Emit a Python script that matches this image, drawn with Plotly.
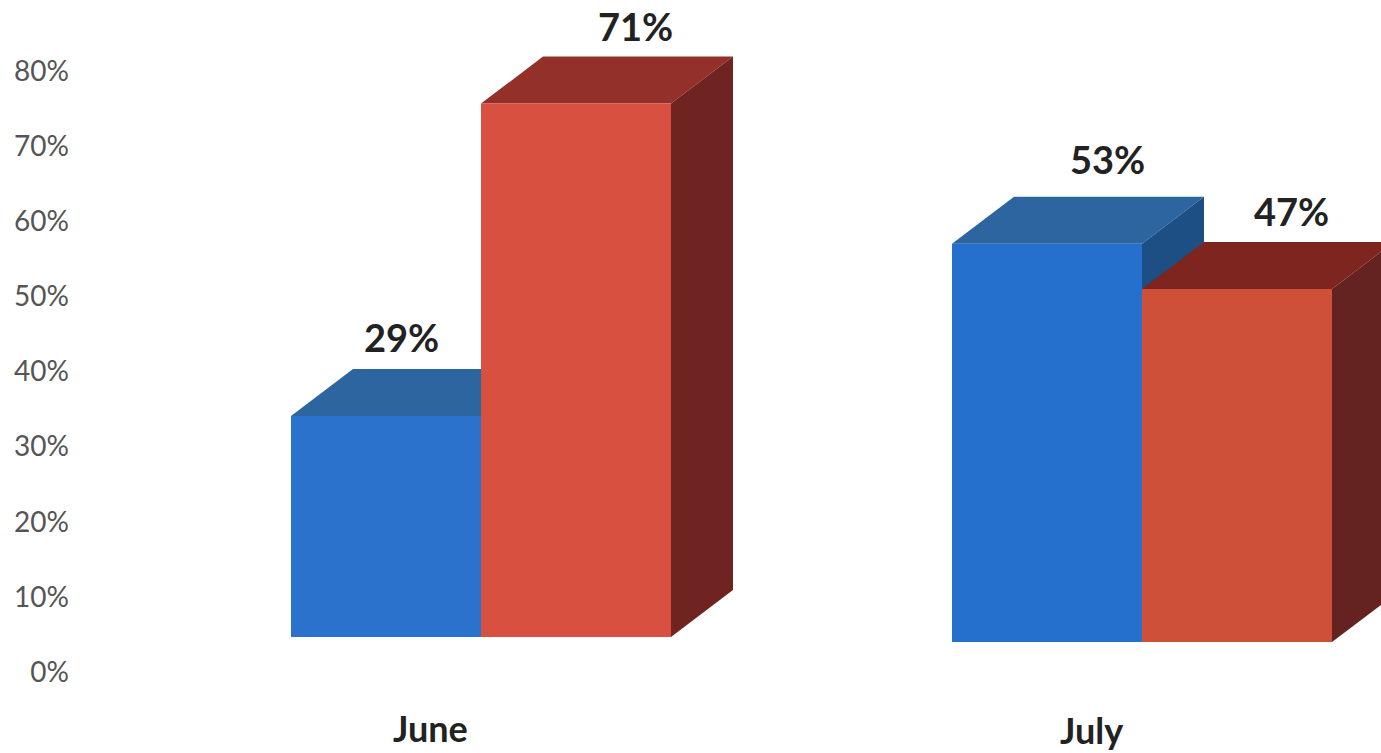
import plotly.graph_objects as go

# --- data ---
categories = ["June", "July"]
blue_values = [29.4, 53]
red_values = [71, 47]
y_ticks = [0, 10, 20, 30, 40, 50, 60, 70, 80]

# --- per-group look (the scan is slightly skewed, so July sits a little lower) ---
group_floor = [4.66, 3.99]
blue_colors = [("#2a72cc", "#2c659f", "#1f4e86"), ("#2470cc", "#2c659f", "#1d4e84")]
red_colors = [("#d8503f", "#923029", "#702422"), ("#cf5039", "#7e2520", "#642320")]
blue_nudge_px = [(-47, 3), (-2, 8)]
red_nudge_px = [(-3, 1), (-8, 1)]
cat_label_drop_px = [91, 88]

# --- geometry ---
W, H = 1381, 753
ML = 70
PX_PER_CAT = 661.0
PX_PER_PCT = 7.5125
CAT0_PX, ZERO_PX = 430.0, 672.0
BAR_W = 190 / PX_PER_CAT
DX = 62 / PX_PER_CAT
DY = 47 / PX_PER_PCT
BAR_SHIFT = 51 / PX_PER_CAT
LABEL_GAP = 29.5 / PX_PER_PCT
FONT = "Lato, Open Sans, sans-serif"

fig = go.Figure()


def face(xs, ys, color):
    fig.add_trace(go.Scatter(x=xs, y=ys, mode="lines", fill="toself", fillcolor=color,
                             line=dict(width=0, color=color), hoverinfo="skip", showlegend=False))


def box(x0, floor, value, colors):
    front, top, side = colors
    y1 = floor + value
    x1 = x0 + BAR_W
    face([x0 + DX, x1 + DX, x1, x0, x0 + DX], [y1 + DY, y1 + DY, y1, y1, y1 + DY], top)
    face([x1, x1 + DX, x1 + DX, x1, x1], [floor, floor + DY, y1 + DY, y1, floor], side)
    face([x0, x1, x1, x0, x0], [floor, floor, y1, y1, floor], front)


annotations = []


def value_label(x0, floor, value, nudge):
    annotations.append(dict(
        x=x0 + BAR_W / 2 + DX + nudge[0] / PX_PER_CAT,
        y=floor + value + DY + LABEL_GAP + nudge[1] / PX_PER_PCT,
        xref="x", yref="y", text=f"{round(value)}%", showarrow=False,
        yanchor="middle", xanchor="center",
        font=dict(family=FONT, size=38, color="#222222", weight=700)))


for i, cat in enumerate(categories):
    centre = i + BAR_SHIFT
    floor = group_floor[i]
    box(centre - BAR_W, floor, blue_values[i], blue_colors[i])
    box(centre, floor, red_values[i], red_colors[i])
    value_label(centre - BAR_W, floor, blue_values[i], blue_nudge_px[i])
    value_label(centre, floor, red_values[i], red_nudge_px[i])
    annotations.append(dict(
        x=i, y=floor - cat_label_drop_px[i] / PX_PER_PCT, xref="x", yref="y", text=cat,
        showarrow=False, xanchor="center", yanchor="middle",
        font=dict(family=FONT, size=36, color="#222222", weight=700)))

fig.update_layout(
    width=W, height=H, autosize=False,
    margin=dict(l=ML, r=0, t=0, b=0),
    paper_bgcolor="white", plot_bgcolor="white",
    showlegend=False, annotations=annotations,
    xaxis=dict(range=[(ML - CAT0_PX) / PX_PER_CAT, (W - CAT0_PX) / PX_PER_CAT],
               showgrid=False, zeroline=False, showline=False, showticklabels=False, ticks=""),
    yaxis=dict(range=[(ZERO_PX - H) / PX_PER_PCT, ZERO_PX / PX_PER_PCT],
               tickmode="array", tickvals=y_ticks, ticktext=[f"{v}%" for v in y_ticks],
               showgrid=False, zeroline=False, showline=False, ticks="",
               tickfont=dict(family=FONT, size=28, color="#555555")),
)

fig.write_html("out.html", config={"displayModeBar": False},
               post_script="document.body.style.margin='0';")
